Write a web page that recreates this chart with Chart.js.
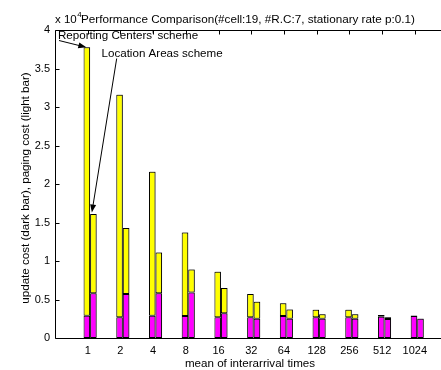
<!DOCTYPE html>
<html>
<head>
<meta charset="utf-8">
<script src="https://cdn.jsdelivr.net/npm/chart.js@4/dist/chart.umd.min.js"></script>
<style>
  html, body { margin: 0; padding: 0; background: #fff; }
  #wrap { width: 441px; height: 370px; }
</style>
</head>
<body>
<div id="wrap"><canvas id="c" width="441" height="370"></canvas></div>
<script>
// Mean of interarrival times (category labels on the x axis)
const categories = ['1', '2', '4', '8', '16', '32', '64', '128', '256', '512', '1024'];

// Costs in units of 10^4
// Reporting Centers scheme: update cost (dark) and paging cost (light)
const rcUpdate = [0.29, 0.27, 0.29, 0.285, 0.27, 0.27, 0.285, 0.27, 0.27, 0.275, 0.285];
const rcPaging = [3.485, 2.89, 1.87, 1.085, 0.59, 0.30, 0.165, 0.096, 0.096, 0.025, 0.008];
// Location Areas scheme: update cost (dark) and paging cost (light)
const laUpdate = [0.58, 0.57, 0.58, 0.59, 0.32, 0.25, 0.25, 0.25, 0.25, 0.246, 0.25];
const laPaging = [1.03, 0.86, 0.53, 0.30, 0.33, 0.22, 0.12, 0.06, 0.06, 0.024, 0.004];

// Y tick values
const yTicks = [0, 0.5, 1, 1.5, 2, 2.5, 3, 3.5, 4];

const FONT = '"Liberation Sans", Arial, Helvetica, sans-serif';
const DARK = '#ff00ff';
const LIGHT = '#ffff00';

const xs = arr => arr.map((v, i) => ({ x: i + 1, y: v }));

// Box, inward tick marks, bar shadow
const axesBox = {
  id: 'axesBox',
  beforeDatasetsDraw(chart) {
    const { ctx, chartArea: a, scales } = chart;
    ctx.save();
    ctx.strokeStyle = '#000';
    ctx.lineWidth = 1;
    ctx.beginPath();
    categories.forEach((_, i) => {
      const px = Math.round(scales.x.getPixelForValue(i + 1)) + 0.5;
      ctx.moveTo(px, a.bottom);
      ctx.lineTo(px, a.bottom - 4);
    });
    ctx.stroke();
    ctx.restore();
    // soft grey drop shadow round the bars
    ctx.save();
    ctx.shadowColor = 'rgba(0,0,0,0.35)';
    ctx.shadowOffsetX = 1;
    ctx.shadowOffsetY = -1;
    ctx.shadowBlur = 0;
  },
  afterDatasetsDraw(chart) {
    const { ctx, chartArea: a, scales } = chart;
    ctx.restore();
    ctx.save();
    ctx.strokeStyle = '#000';
    ctx.lineWidth = 1;
    ctx.beginPath();
    const L = a.left + 0.5, T = a.top + 0.5, B = a.bottom + 0.5;
    ctx.moveTo(a.right, T); ctx.lineTo(L, T); ctx.lineTo(L, B); ctx.lineTo(a.right, B);
    yTicks.forEach(v => {
      const py = Math.round(scales.y.getPixelForValue(v)) + 0.5;
      ctx.moveTo(L, py); ctx.lineTo(L + 4, py);
    });
    categories.forEach((_, i) => {
      const px = Math.round(scales.x.getPixelForValue(i + 1)) + 0.5;
      ctx.moveTo(px, T); ctx.lineTo(px, T + 4);
    });
    ctx.stroke();
    ctx.restore();
  }
};

function arrow(ctx, x1, y1, x2, y2) {
  const ang = Math.atan2(y2 - y1, x2 - x1);
  const len = 8, hw = 3;
  ctx.beginPath();
  ctx.moveTo(x1, y1);
  ctx.lineTo(x2 - Math.cos(ang) * len * 0.8, y2 - Math.sin(ang) * len * 0.8);
  ctx.stroke();
  ctx.beginPath();
  ctx.moveTo(x2, y2);
  ctx.lineTo(x2 - Math.cos(ang) * len - Math.sin(ang) * hw, y2 - Math.sin(ang) * len + Math.cos(ang) * hw);
  ctx.lineTo(x2 - Math.cos(ang) * len + Math.sin(ang) * hw, y2 - Math.sin(ang) * len - Math.cos(ang) * hw);
  ctx.closePath();
  ctx.fill();
}

// Title, axis labels and the two scheme annotations
const texts = {
  id: 'texts',
  afterDraw(chart) {
    const { ctx, chartArea: a } = chart;
    ctx.save();
    ctx.fillStyle = '#000';
    ctx.strokeStyle = '#000';
    ctx.lineWidth = 1;
    ctx.textBaseline = 'alphabetic';

    // exponent label and title
    ctx.textAlign = 'left';
    ctx.font = '11.5px ' + FONT;
    ctx.fillText('x 10', a.left, 22.5);
    const w10 = ctx.measureText('x 10').width;
    ctx.font = '8px ' + FONT;
    ctx.fillText('4', a.left + w10 + 0.5, 16.5);
    ctx.font = '11.7px ' + FONT;
    ctx.fillText('Performance Comparison(#cell:19, #R.C:7, stationary rate p:0.1)', 81, 22.5);

    // x axis label
    ctx.font = '11.6px ' + FONT;
    ctx.textAlign = 'center';
    ctx.fillText('mean of interarrival times', 250, 366.5);

    // y axis label
    ctx.save();
    ctx.translate(28.5, 188);
    ctx.rotate(-Math.PI / 2);
    ctx.fillText('update cost (dark bar), paging cost (light bar)', 0, 0);
    ctx.restore();

    // annotations
    ctx.textAlign = 'left';
    ctx.fillText("Reporting Centers' scheme", 58, 39);
    ctx.fillText('Location Areas scheme', 101.5, 57);

    const rcTop = chart.getDatasetMeta(1).data[0];
    const laTop = chart.getDatasetMeta(3).data[0];
    arrow(ctx, 59, 40.5, rcTop.x - 0.5, rcTop.y);
    arrow(ctx, 116.7, 58.5, laTop.x - 1.5, laTop.y - 1.5);
    ctx.restore();
  }
};

const barCommon = {
  xAxisID: 'xb',
  yAxisID: 'y',
  borderColor: '#000',
  borderWidth: 1,
  borderSkipped: false,
  barPercentage: 1.0,
  categoryPercentage: 0.40
};

new Chart(document.getElementById('c'), {
  type: 'bar',
  data: {
    datasets: [
      { ...barCommon, label: 'RC update', data: xs(rcUpdate), backgroundColor: DARK, stack: 'rc' },
      { ...barCommon, label: 'RC paging', data: xs(rcPaging), backgroundColor: LIGHT, stack: 'rc' },
      { ...barCommon, label: 'LA update', data: xs(laUpdate), backgroundColor: DARK, stack: 'la' },
      { ...barCommon, label: 'LA paging', data: xs(laPaging), backgroundColor: LIGHT, stack: 'la' }
    ]
  },
  options: {
    responsive: false,
    animation: false,
    devicePixelRatio: 1,
    layout: { padding: { top: 30, right: 0, left: 0, bottom: 0 } },
    plugins: {
      legend: { display: false },
      title: { display: false },
      tooltip: { enabled: false }
    },
    scales: {
      x: {
        type: 'linear',
        position: 'bottom',
        min: 0,
        max: 11.8,
        offset: false,
        grid: { display: false, drawTicks: false },
        border: { display: false },
        afterBuildTicks(s) { s.ticks = categories.map((_, i) => ({ value: i + 1 })); },
        afterFit(s) { s.height = 32; },
        ticks: {
          autoSkip: false,
          maxRotation: 0,
          padding: 6,
          color: '#000',
          font: { family: FONT, size: 11 },
          callback: v => categories[v - 1]
        }
      },
      xb: {
        type: 'linear',
        display: false,
        min: -0.073,
        max: 11.727,
        offset: false,
        stacked: true
      },
      y: {
        type: 'linear',
        position: 'left',
        min: 0,
        max: 4,
        stacked: true,
        grid: { display: false, drawTicks: false },
        border: { display: false },
        afterBuildTicks(s) { s.ticks = yTicks.map(v => ({ value: v })); },
        afterFit(s) { s.width = 55; },
        ticks: {
          padding: 5,
          color: '#000',
          font: { family: FONT, size: 11 },
          callback: v => String(v)
        }
      }
    }
  },
  plugins: [axesBox, texts]
});
</script>
</body>
</html>
